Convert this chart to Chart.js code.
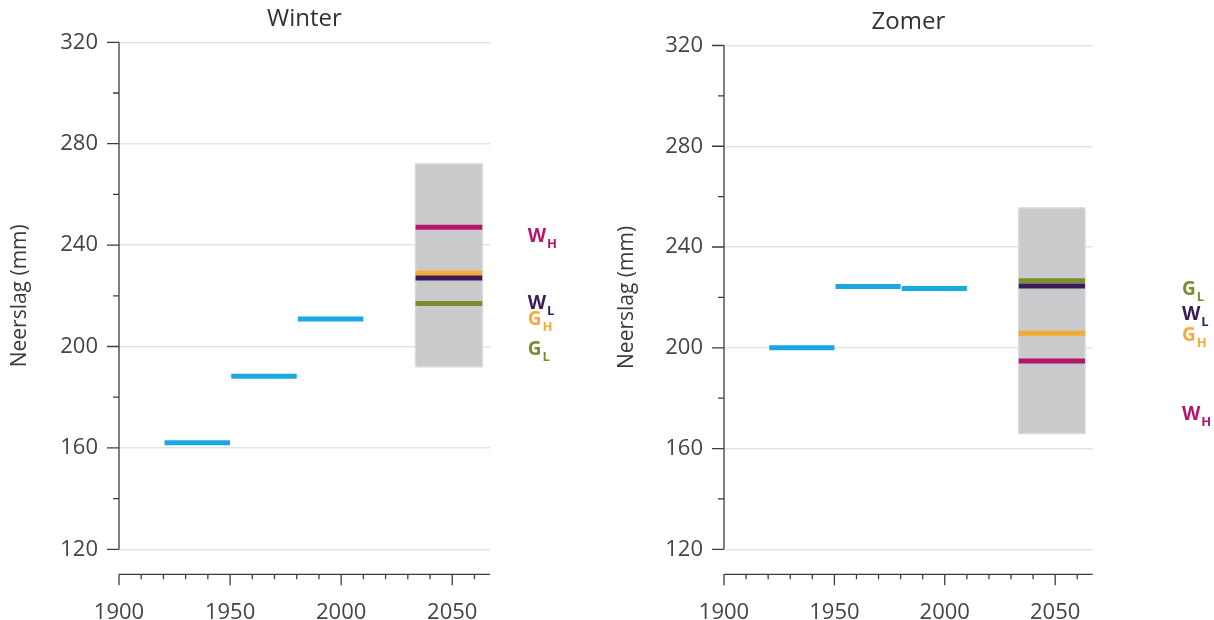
<!DOCTYPE html>
<html>
<head>
<meta charset="utf-8">
<script src="https://cdn.jsdelivr.net/npm/chart.js@4/dist/chart.umd.min.js"></script>
<style>
  html, body { margin: 0; padding: 0; background: #fff; }
  #wrap { position: relative; width: 1214px; height: 620px; overflow: hidden; }
  .panel { position: absolute; top: 0; width: 607px; height: 620px; }
</style>
</head>
<body>
<div id="wrap">
  <div class="panel" style="left:0"><canvas id="winter" width="607" height="620"></canvas></div>
  <div class="panel" style="left:607px"><canvas id="zomer" width="607" height="620"></canvas></div>
</div>
<script>
// Observed 30-year means and 2050 scenario values, precipitation in mm
const periods = [[1920.5, 1950], [1950.5, 1980], [1980.5, 2010]];
const winterObserved = [162, 188.3, 210.8];
const zomerObserved = [200, 224.3, 223.5];

const scenarioPeriod = [2033.5, 2063.5];
const winterRange = [192, 272];
const zomerRange = [166, 255.5];

const scenarioNames = ['GL', 'GH', 'WL', 'WH'];
const winterScenarios = [217, 229, 227, 247];
const zomerScenarios = [226.6, 205.8, 224.5, 194.8];

const yTicks = [120, 160, 200, 240, 280, 320];
const xTicks = [1900, 1950, 2000, 2050];

const FONT = "'Open Sans', 'Noto Sans', 'DejaVu Sans', sans-serif";
const BLUE = '#19a8e2';
const BOX_FILL = '#c9cacc';
const BOX_EDGE = '#d8d8d8';
const SCEN_COLORS = { WH: '#b3166b', WL: '#3b1a5a', GH: '#f5ab35', GL: '#7d8c2c' };

// axis line, tick marks and the detached x axis
const axisFrame = {
  id: 'axisFrame',
  afterDraw(chart) {
    const { ctx, chartArea: a, scales: { x, y } } = chart;
    ctx.save();
    ctx.strokeStyle = '#3c3c3c';
    ctx.lineWidth = 1.3;
    // y axis
    const yTop = y.getPixelForValue(320), yBot = y.getPixelForValue(120);
    ctx.beginPath();
    ctx.moveTo(a.left, yTop); ctx.lineTo(a.left, yBot);
    for (let v = 120; v <= 320; v += 20) {
      const py = y.getPixelForValue(v);
      const len = yTicks.includes(v) ? 12 : 6;
      ctx.moveTo(a.left - len, py); ctx.lineTo(a.left, py);
    }
    ctx.stroke();
    // x axis, drawn below the plot
    const xb = a.bottom + 25;
    ctx.beginPath();
    ctx.moveTo(a.left, xb); ctx.lineTo(a.right, xb);
    for (let v = 1900; v <= 2060; v += 10) {
      const px = x.getPixelForValue(v);
      const len = xTicks.includes(v) ? 11 : 5;
      ctx.moveTo(px, xb); ctx.lineTo(px, xb + len);
    }
    ctx.stroke();
    ctx.restore();
  }
};

// scenario names with subscripts beside the plot
const scenarioLabels = {
  id: 'scenarioLabels',
  afterDraw(chart, args, opts) {
    const { ctx, chartArea: a, scales: { y } } = chart;
    opts.items.forEach(it => {
      const px = a.right + opts.dx;
      const py = y.getPixelForValue(it.at);
      ctx.save();
      ctx.fillStyle = SCEN_COLORS[it.name];
      ctx.textBaseline = 'alphabetic';
      ctx.font = `bold 19px ${FONT}`;
      ctx.fillText(it.name[0], px, py);
      const w = ctx.measureText(it.name[0]).width;
      ctx.font = `bold 13px ${FONT}`;
      ctx.fillText(it.name[1], px + w + 1, py + 6);
      ctx.restore();
    });
  }
};

function buildChart(id, cfg) {
  const datasets = [];
  // scenario range box
  datasets.push({
    data: [
      { x: scenarioPeriod[0], y: cfg.range[0] },
      { x: scenarioPeriod[0], y: cfg.range[1] },
      { x: scenarioPeriod[1], y: cfg.range[1] },
      { x: scenarioPeriod[1], y: cfg.range[0] },
      { x: scenarioPeriod[0], y: cfg.range[0] }
    ],
    showLine: true, fill: 'shape', backgroundColor: BOX_FILL,
    borderColor: BOX_EDGE, borderWidth: 1.5, pointRadius: 0, order: 10
  });
  // observed period means
  periods.forEach((p, i) => {
    datasets.push({
      data: [{ x: p[0], y: cfg.observed[i] }, { x: p[1], y: cfg.observed[i] }],
      showLine: true, borderColor: BLUE, borderWidth: 5, borderCapStyle: 'butt',
      pointRadius: 0, fill: false, order: 5
    });
  });
  // scenario values
  scenarioNames.forEach((n, i) => {
    datasets.push({
      data: [{ x: scenarioPeriod[0], y: cfg.scenarios[i] }, { x: scenarioPeriod[1], y: cfg.scenarios[i] }],
      showLine: true, borderColor: SCEN_COLORS[n], borderWidth: 5, borderCapStyle: 'butt',
      pointRadius: 0, fill: false, order: 4 - i
    });
  });

  return new Chart(document.getElementById(id), {
    type: 'scatter',
    data: { datasets },
    plugins: [axisFrame, scenarioLabels],
    options: {
      responsive: false,
      animation: false,
      events: [],
      layout: { padding: { left: 0, right: 607 - cfg.area.right, top: 0, bottom: 0 } },
      plugins: {
        legend: { display: false },
        tooltip: { enabled: false },
        title: {
          display: true, text: cfg.title, color: '#2f2f38', fullSize: false,
          font: { family: FONT, size: 24, weight: 'normal' },
          padding: { top: cfg.area.top - 37.3, bottom: 8.5 }
        },
        scenarioLabels: { dx: cfg.labelDx, items: cfg.labels }
      },
      scales: {
        x: {
          type: 'linear', min: 1900, max: 2067,
          afterFit: s => { s.height = 620 - cfg.area.bottom; },
          afterBuildTicks: s => { s.ticks = xTicks.map(v => ({ value: v })); },
          grid: { display: false, drawTicks: false },
          border: { display: false },
          ticks: {
            padding: 50, color: '#444', maxRotation: 0,
            font: { family: FONT, size: 22 },
            callback: v => String(v)
          }
        },
        y: {
          type: 'linear', min: 120, max: 320,
          afterFit: s => { s.width = cfg.area.left; },
          afterBuildTicks: s => {
            const t = [];
            for (let v = 120; v <= 320; v += 20) t.push({ value: v });
            s.ticks = t;
          },
          grid: {
            drawTicks: false, lineWidth: 1.5,
            color: c => (c.tick && yTicks.includes(c.tick.value)) ? '#e4e4e4' : 'rgba(0,0,0,0)'
          },
          border: { display: false },
          ticks: {
            padding: 21, color: '#444',
            font: { family: FONT, size: 22 },
            callback: v => yTicks.includes(v) ? String(v) : ''
          },
          title: {
            display: true, text: 'Neerslag (mm)', color: '#3a3a3a',
            font: { family: FONT, size: 21 },
            padding: { top: 7, bottom: 0 }
          }
        }
      }
    }
  });
}

buildChart('winter', {
  title: 'Winter',
  observed: winterObserved,
  range: winterRange,
  scenarios: winterScenarios,
  area: { left: 119, right: 490, top: 42.3, bottom: 549.3 },
  labelDx: 37.7,
  labels: [
    { name: 'WH', at: 241.3 },
    { name: 'WL', at: 214.8 },
    { name: 'GH', at: 208.5 },
    { name: 'GL', at: 196.7 }
  ]
});

buildChart('zomer', {
  title: 'Zomer',
  observed: zomerObserved,
  range: zomerRange,
  scenarios: zomerScenarios,
  area: { left: 117, right: 485.7, top: 45.5, bottom: 549.3 },
  labelDx: 89.3,
  labels: [
    { name: 'GL', at: 221.0 },
    { name: 'WL', at: 211.0 },
    { name: 'GH', at: 202.8 },
    { name: 'WH', at: 171.4 }
  ]
});
</script>
</body>
</html>
